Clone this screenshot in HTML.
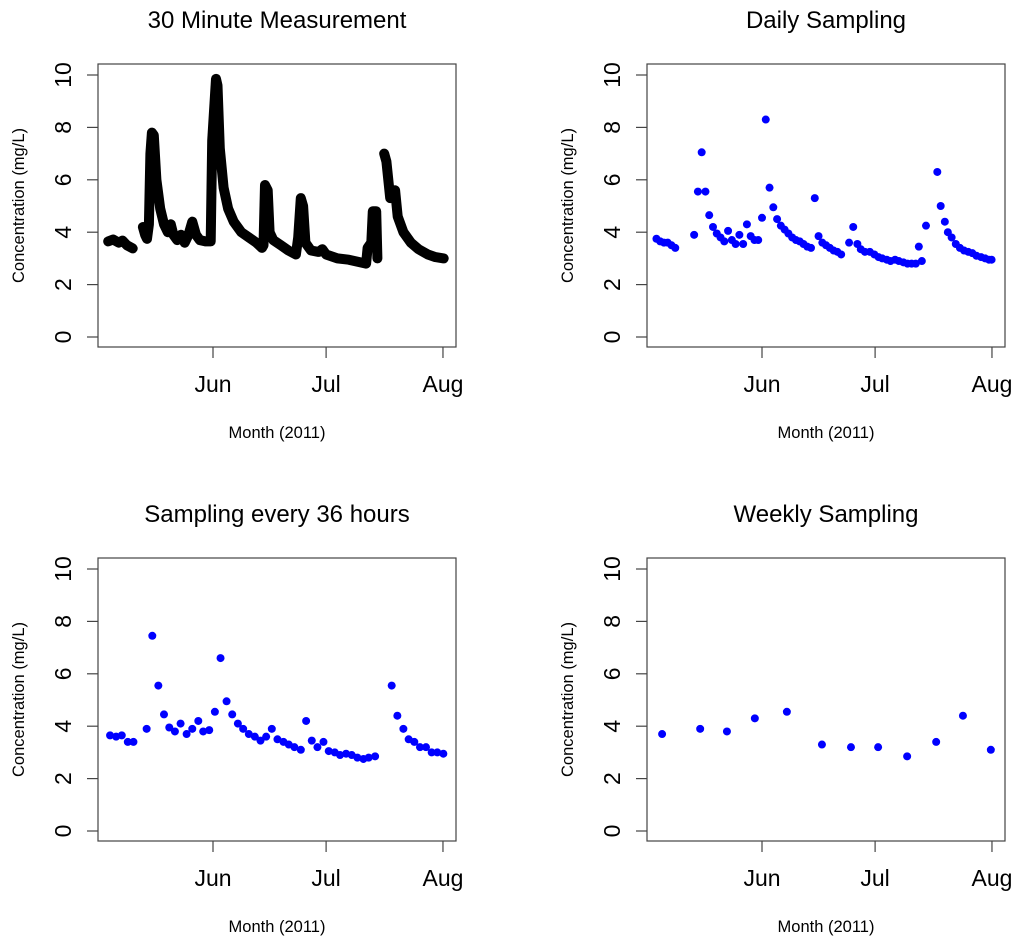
<!DOCTYPE html>
<html><head><meta charset="utf-8"><style>
html,body{margin:0;padding:0;background:#fff}
svg text{font-family:"Liberation Sans",Arial,sans-serif;fill:#000}
</style></head><body>
<svg id="c" width="1024" height="939" xmlns="http://www.w3.org/2000/svg"></svg>
<script>
// ---- data (x = days relative to 1 June 2011, y = mg/L) ----
const monthTicks = ["Jun","Jul","Aug"];
const monthTickDays = [0,30,61];
const yTicks = [0,2,4,6,8,10];

// 30-minute continuous record (key points, segments separated by gaps)
const contSeg1Days = [-27.8,-26.5,-25,-24,-22.8,-21.3];
const contSeg1Vals = [3.65,3.72,3.6,3.68,3.5,3.38];
const contSeg2Days = [-18.6,-18,-17.5,-17.0,-16.6,-16.2,-15.7,-15,-14,-13,-12,-11.2,-10.5,-9.5,-8.5,-7.5,-6.5,-5.5,-4.5,-3.5,-2,-0.6,-0.2,0.8,1.2,1.8,2.8,4,5.5,7.5,9.5,11.5,13,13.4,13.8,14.5,15,16,18,20,22,22.6,23.3,23.9,24.5,26,28,29,30,33,36,39,40.6,41,42,42.4,43.3,43.6];
const contSeg2Vals = [4.2,3.9,3.75,4.3,7.0,7.8,7.7,6.0,4.9,4.3,4.0,4.3,3.9,3.7,3.9,3.6,3.9,4.4,3.9,3.7,3.65,3.65,7.5,9.85,9.6,7.2,5.7,4.9,4.4,4.0,3.8,3.6,3.4,3.5,5.8,5.6,4.0,3.7,3.5,3.3,3.15,3.8,5.3,5.0,3.6,3.3,3.25,3.35,3.15,3.0,2.95,2.85,2.8,3.4,3.6,4.8,4.8,3.0];
const contSeg3Days = [45.4,46,47,48.3,49,50.5,52.5,54.5,57,59,61.2];
const contSeg3Vals = [7.0,6.7,5.3,5.6,4.6,4.0,3.6,3.35,3.15,3.05,3.0];

// daily sampling
const dailyDays = [-28,-27,-26,-25,-24,-23,-18,-17,-16,-15,-14,-13,-12,-11,-10,-9,-8,-7,-6,-5,-4,-3,-2,-1,0,1,2,3,4,5,6,7,8,9,10,11,12,13,14,15,16,17,18,19,20,21,23.1,24.2,25.3,26.2,27.3,28.6,29.8,30.9,31.9,33.1,34.1,35.3,36.3,37.5,38.6,39.7,40.8,41.6,42.4,43.5,46.5,47.4,48.5,49.3,50.3,51.4,52.5,53.6,54.7,55.8,56.9,58.1,59.2,60.2,60.9];
const dailyVals = [3.75,3.65,3.6,3.6,3.5,3.4,3.9,5.55,7.05,5.55,4.65,4.2,3.95,3.8,3.65,4.05,3.7,3.55,3.9,3.55,4.3,3.85,3.7,3.7,4.55,8.3,5.7,4.95,4.5,4.25,4.1,3.95,3.8,3.7,3.65,3.55,3.45,3.4,5.3,3.85,3.6,3.5,3.4,3.3,3.25,3.15,3.6,4.2,3.55,3.35,3.25,3.25,3.15,3.05,3.0,2.95,2.9,2.95,2.9,2.85,2.8,2.8,2.8,3.45,2.9,4.25,6.3,5.0,4.4,4.0,3.8,3.55,3.4,3.3,3.25,3.2,3.1,3.05,3.0,2.95,2.95];

// every 36 hours
const h36Days = [-27.3,-25.7,-24.2,-22.6,-21.1,-17.6,-16.1,-14.5,-13.0,-11.6,-10.1,-8.6,-7.0,-5.5,-3.9,-2.6,-1.0,0.5,2.0,3.6,5.1,6.6,8.0,9.5,11.1,12.6,14.1,15.6,17.1,18.7,20.1,21.6,23.3,24.7,26.2,27.7,29.3,30.7,32.3,33.7,35.3,36.8,38.3,39.9,41.3,43.0,47.4,48.9,50.5,51.9,53.4,54.9,56.5,58.0,59.5,61.1];
const h36Vals = [3.65,3.6,3.65,3.4,3.4,3.9,7.45,5.55,4.45,3.95,3.8,4.1,3.7,3.9,4.2,3.8,3.85,4.55,6.6,4.95,4.45,4.1,3.9,3.7,3.6,3.45,3.6,3.9,3.5,3.4,3.3,3.2,3.1,4.2,3.45,3.2,3.4,3.05,3.0,2.9,2.95,2.9,2.8,2.75,2.8,2.85,5.55,4.4,3.9,3.5,3.4,3.2,3.2,3.0,3.0,2.95];

// weekly
const weeklyDays = [-26.5,-16.4,-9.3,-1.9,6.6,15.9,23.6,30.8,38.5,46.2,53.3,60.7];
const weeklyVals = [3.7,3.9,3.8,4.3,4.55,3.3,3.2,3.2,2.85,3.4,4.4,3.1];

// ---- drawing ----
const svg = document.getElementById('c');
const NS = 'http://www.w3.org/2000/svg';
function mk(tag, attrs, parent){
  const e = document.createElementNS(NS, tag);
  for (const k in attrs) e.setAttribute(k, attrs[k]);
  (parent||svg).appendChild(e);
  return e;
}

function panel(dx, dy, title, key){
  const g = mk('g', {});
  
  
  const L = 98+dx, R = 456+dx, T = 64+dy, B = 347+dy;
  const xs = d => 213 + dx + d*3.77;
  const ys = v => 337 + dy - v*26.2;
  const box = mk('rect', {x:L, y:T, width:R-L, height:B-T, fill:'none', stroke:'#444', 'stroke-width':1.2}, g);
  
  
  const t = mk('text', {x:(L+R)/2, y:28+dy, 'text-anchor':'middle', 'font-size':24}, g);
  t.textContent = title;
  
  
  yTicks.forEach(v => {
    mk('line', {x1:L-11, x2:L, y1:ys(v), y2:ys(v), stroke:'#444', 'stroke-width':1.2}, g);
    const lb = mk('text', {x:0, y:0, 'text-anchor':'middle', 'font-size':23, transform:`translate(${L-27},${ys(v)}) rotate(-90)`}, g);
    lb.textContent = v;
    
    
  });
  monthTicks.forEach((m,i) => {
    const x = xs(monthTickDays[i]);
    mk('line', {x1:x, x2:x, y1:B, y2:B+11, stroke:'#444', 'stroke-width':1.2}, g);
    const lb = mk('text', {x:x, y:B+45, 'text-anchor':'middle', 'font-size':23}, g);
    lb.textContent = m;
    
    
  });
  const yl = mk('text', {x:0, y:0, 'text-anchor':'middle', 'font-size':16.5, transform:`translate(${24+dx},${(T+B)/2}) rotate(-90)`}, g);
  yl.textContent = 'Concentration (mg/L)';
  
  
  const xl = mk('text', {x:(L+R)/2, y:B+91, 'text-anchor':'middle', 'font-size':16.5}, g);
  xl.textContent = 'Month (2011)';
  
  
  return {g, xs, ys};
}

// Panel 1: continuous
(function(){
  const p = panel(0, 0, '30 Minute Measurement', 'thirty-minute');
  [[contSeg1Days,contSeg1Vals],[contSeg2Days,contSeg2Vals],[contSeg3Days,contSeg3Vals]].forEach(([d,v]) => {
    const pts = d.map((x,i) => p.xs(x).toFixed(1)+','+p.ys(v[i]).toFixed(1)).join(' ');
    const pl = mk('polyline', {points:pts, fill:'none', stroke:'#000', 'stroke-width':10, 'stroke-linejoin':'round', 'stroke-linecap':'round'}, p.g);
    
    
  });
})();

function dots(p, days, vals){
  days.forEach((d,i) => {
    const c = mk('circle', {cx:p.xs(d), cy:p.ys(vals[i]), r:4, fill:'#0000ff'}, p.g);
    
    
  });
}
dots(panel(549, 0, 'Daily Sampling', 'daily'), dailyDays, dailyVals);
dots(panel(0, 494, 'Sampling every 36 hours', 'thirty-six-hour'), h36Days, h36Vals);
dots(panel(549, 494, 'Weekly Sampling', 'weekly'), weeklyDays, weeklyVals);
</script>
</body></html>
